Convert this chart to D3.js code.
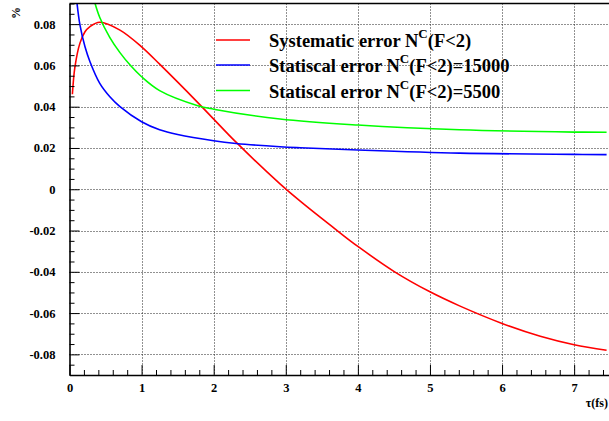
<!DOCTYPE html>
<html><head><meta charset="utf-8">
<script src="https://cdn.jsdelivr.net/npm/d3@7"></script>
<style>
html,body{margin:0;padding:0;background:#fff;}
svg{display:block;}
svg text{font-family:"Liberation Serif","Times New Roman",Times,"DejaVu Serif",serif !important;font-weight:bold;}
</style></head>
<body>
<svg id="c" width="609" height="421"></svg>
<script>
// ---- data ----
const sysTau  = [0.04, 0.076, 0.145, 0.215, 0.28, 0.42, 0.7, 1.0, 1.25, 1.78, 2.0, 2.31, 2.92, 3.2, 3.73, 4.0, 4.51, 5.0, 5.41, 6.0, 6.53, 7.0, 7.45];
const sysVal  = [0.046, 0.0594, 0.0708, 0.0763, 0.0787, 0.0809, 0.0771, 0.0690, 0.0606, 0.0420, 0.0340, 0.0228, 0.0026, -0.0058, -0.0205, -0.0277, -0.0400, -0.0497, -0.0565, -0.0650, -0.0712, -0.0753, -0.0780];
const stat15Tau = [0.095, 0.145, 0.215, 0.284, 0.42, 0.56, 0.7, 1.0, 1.25, 1.5, 2.0, 2.31, 2.92, 3.2, 4.0, 5.41, 7.0, 7.45];
const stat15Val = [0.093, 0.0796, 0.069, 0.0618, 0.0513, 0.0448, 0.040, 0.0327, 0.0288, 0.0265, 0.0235, 0.0222, 0.0206, 0.0201, 0.019, 0.0175, 0.0169, 0.0168];
const stat55Tau = [0.33, 0.42, 0.56, 0.7, 0.85, 1.0, 1.25, 1.78, 2.0, 2.92, 4.0, 5.41, 7.0, 7.45];
const stat55Val = [0.093, 0.0832, 0.0735, 0.0662, 0.0598, 0.0545, 0.0478, 0.0405, 0.0388, 0.0340, 0.0311, 0.0288, 0.0277, 0.0276];
const xTicks = [0, 1, 2, 3, 4, 5, 6, 7];
const xTickLabels = ["0", "1", "2", "3", "4", "5", "6", "7"];
const yTicks = [0.08, 0.06, 0.04, 0.02, 0, -0.02, -0.04, -0.06, -0.08];
const yTickLabels = ["0.08", "0.06", "0.04", "0.02", "0", "-0.02", "-0.04", "-0.06", "-0.08"];
const seriesNames = ["Systematic error N", "Statiscal error N", "Statiscal error N"];
const seriesSuffix = ["(F<2)", "(F<2)=15000", "(F<2)=5500"];
const seriesColors = ["#ff0000", "#0000ff", "#00ff00"];

// ---- layout ----
const L = 69.5, R = 610.2, T = 3.5, B = 375;
const svg = d3.select("#c");
const x = d3.scaleLinear().domain([0, 7.5]).range([L, R]);
const y = d3.scaleLinear().domain([-0.09, 0.09]).range([B, T]);

// grid
const grid = svg.append("g").attr("stroke", "#222").attr("stroke-width", 1).attr("stroke-dasharray", "1,2");
grid.selectAll("line.v").data(xTicks.filter(d => d > 0)).join("line")
  .attr("x1", d => Math.round(x(d)) + 0.5).attr("x2", d => Math.round(x(d)) + 0.5)
  .attr("y1", T).attr("y2", B);
grid.selectAll("line.h").data(yTicks).join("line")
  .attr("y1", d => Math.round(y(d)) + 0.5).attr("y2", d => Math.round(y(d)) + 0.5)
  .attr("x1", L).attr("x2", R);

// curves
svg.append("clipPath").attr("id", "clip").append("rect")
  .attr("x", L).attr("y", T).attr("width", R - L).attr("height", B - T);
const line = d3.line().x(d => x(d[0])).y(d => y(d[1])).curve(d3.curveCatmullRom.alpha(0.5));
const series = [
  d3.zip(sysTau, sysVal),
  d3.zip(stat15Tau, stat15Val),
  d3.zip(stat55Tau, stat55Val)
];
svg.append("g").attr("clip-path", "url(#clip)")
  .selectAll("path").data(series).join("path")
  .attr("d", line).attr("fill", "none")
  .attr("stroke", (d, i) => seriesColors[i]).attr("stroke-width", 1.6);

// axes
const fs = 12.5;
const minorX = d3.range(0, 7.5001, 0.2).filter(v => Math.abs(v - Math.round(v)) > 1e-6);
const minorY = d3.range(-0.09, 0.0901, 0.005).filter(v => Math.abs(v * 50 - Math.round(v * 50)) > 1e-6);

const gx = svg.append("g").attr("transform", `translate(0,${B})`);
gx.call(d3.axisBottom(x).tickValues(xTicks).tickFormat((d, i) => xTickLabels[i]).tickSize(-10).tickSizeOuter(0).tickPadding(8));
gx.append("g").call(d3.axisBottom(x).tickValues(minorX).tickFormat("").tickSize(-5).tickSizeOuter(0))
  .select(".domain").remove();

const gy = svg.append("g").attr("transform", `translate(${L},0)`);
gy.call(d3.axisLeft(y).tickValues(yTicks).tickFormat((d, i) => yTickLabels[i]).tickSize(-10).tickSizeOuter(0).tickPadding(14));
gy.append("g").call(d3.axisLeft(y).tickValues(minorY).tickFormat("").tickSize(-5).tickSizeOuter(0))
  .select(".domain").remove();

svg.selectAll(".tick text").attr("font-size", fs).attr("fill", "#000");
svg.selectAll(".domain").attr("stroke", "#000").attr("stroke-width", 1.6);
svg.selectAll(".tick line").attr("stroke", "#000").attr("stroke-width", 1);

// top frame
svg.append("line").attr("x1", L).attr("x2", R).attr("y1", T).attr("y2", T).attr("stroke", "#000").attr("stroke-width", 1.6);

// axis titles
svg.append("text").attr("transform", "translate(20,13) rotate(-90)")
  .attr("text-anchor", "middle").attr("font-size", 12).text("%");
svg.append("text").attr("x", 608).attr("y", 407).attr("text-anchor", "end")
  .attr("font-size", 12).text("τ(fs)");

// legend
const lg = svg.append("g");
const legY = [40, 65, 90.5];
seriesNames.forEach((name, i) => {
  lg.append("line").attr("x1", 216).attr("x2", 250).attr("y1", legY[i]).attr("y2", legY[i])
    .attr("stroke", seriesColors[i]).attr("stroke-width", 1.6);
  const t = lg.append("text").attr("x", 269).attr("y", legY[i] + 7).attr("font-size", 18.5);
  t.append("tspan").text(name);
  t.append("tspan").attr("dy", -9).attr("font-size", 13).text("C");
  t.append("tspan").attr("dy", 9).text(seriesSuffix[i]);
});
</script>
</body></html>
